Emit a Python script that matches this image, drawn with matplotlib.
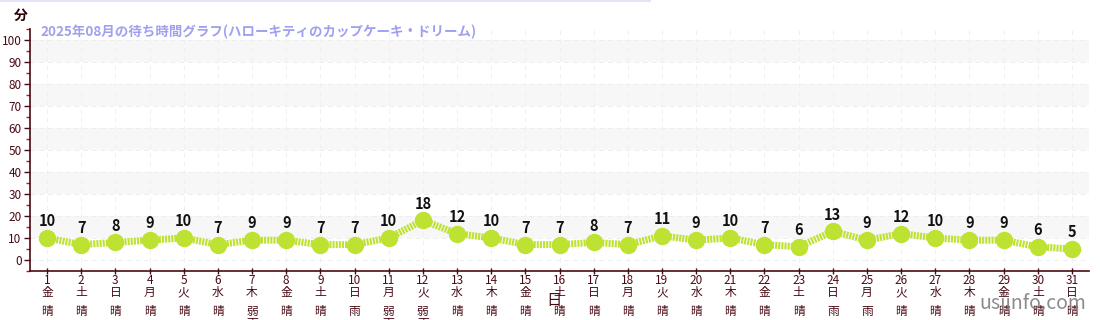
import matplotlib
matplotlib.use("Agg")
import matplotlib.pyplot as plt
from matplotlib.ticker import MultipleLocator

plt.rcParams['font.family'] = ['Noto Sans CJK JP', 'DejaVu Sans']

# data
days = list(range(1, 32))
waits = [10, 7, 8, 9, 10, 7, 9, 9, 7, 7, 10, 18, 12, 10, 7, 7, 8, 7, 11, 9,
         10, 7, 6, 13, 9, 12, 10, 9, 9, 6, 5]
weekdays = ['金', '土', '日', '月', '火', '水', '木'] * 5
weekdays = weekdays[:31]
weather = ['晴', '晴', '晴', '晴', '晴', '晴', '弱雨', '晴', '晴', '雨',
           '弱雨', '弱雨', '晴', '晴', '晴', '晴', '晴', '晴', '晴', '晴',
           '晴', '晴', '晴', '雨', '雨', '晴', '晴', '晴', '晴', '晴', '晴']
title = '2025年08月の待ち時間グラフ(ハローキティのカップケーキ・ドリーム)'

axcol = '#4a0a14'
green = '#bde232'

fig = plt.figure(figsize=(11, 3.2), dpi=100)
ax = fig.add_axes([30/1100, 1-271/320, 1059/1100, 242/320])

ax.set_xlim(0.5, 31.5)
ax.set_ylim(-5, 105)

# alternating bands
for lo in range(10, 100, 20):
    ax.axhspan(lo, lo + 10, color='#f7f7f7', zorder=0, lw=0)
for yv in range(0, 101, 10):
    ax.axhline(yv, color='#eeeeee', ls=(0, (5, 4)), lw=0.7, zorder=0.5)
for d in days:
    ax.axvline(d, color='#f0f0f0', ls=(0, (5, 4)), lw=0.7, zorder=0.5)

ax.plot(days, waits, color=green, lw=5, ls=(0, (0.3, 0.15)), zorder=2,
        dash_capstyle='butt')
ax.plot(days, waits, 'o', color=green, ms=11.5, zorder=3)

for d, w in zip(days, waits):
    ax.text(d, w + 4, str(w), ha='center', va='bottom', fontsize=10.5,
            fontweight='bold', color='#111111')

# x tick labels: day / weekday / weather (drawn as text rows)
ax.set_xticks(days)
ax.set_xticklabels([])
ax.tick_params(axis='x', length=5, width=1, color=axcol, direction='inout')
tr = ax.get_xaxis_transform()
def ypos(px):
    return (271 - px) / 242
for d, wd, wt in zip(days, weekdays, weather):
    ax.text(d, ypos(280), str(d), transform=tr, ha='center', va='center',
            fontsize=8.5, color=axcol, clip_on=False)
    ax.text(d, ypos(292.5), wd, transform=tr, ha='center', va='center',
            fontsize=8.5, color=axcol, clip_on=False)
    ax.text(d, ypos(311), wt[0], transform=tr, ha='center', va='center',
            fontsize=8.5, color=axcol, clip_on=False)
    if len(wt) > 1:
        ax.text(d, ypos(324), wt[1:], transform=tr, ha='center', va='center',
                fontsize=8.5, color=axcol, clip_on=False)

ax.yaxis.set_major_locator(MultipleLocator(10))
ax.yaxis.set_minor_locator(MultipleLocator(5))
ax.tick_params(axis='y', which='major', length=4, width=1, color=axcol,
               labelsize=8.5, labelcolor=axcol, pad=2)
ax.tick_params(axis='y', which='minor', length=3, width=1, color='#d01010')

for s in ['top', 'right']:
    ax.spines[s].set_visible(False)
for s in ['left', 'bottom']:
    ax.spines[s].set_color(axcol)
    ax.spines[s].set_linewidth(1.2)

ax.text(0.8, 103.5, title, ha='left', va='center', fontsize=9.7, fontweight='bold',
        color='#a0a0f0')
fig.text(21/1100, 1-16/320, '分', ha='center', va='center', fontsize=10,
         fontweight='bold', color='#2a0008')
fig.text(554/1100, 1-300/320, '日', ha='center', va='center', fontsize=11,
         color=axcol)
fig.text(1086/1100, 1-304/320, 'usjinfo.com', ha='right', va='center', fontsize=14,
         color='#777777', alpha=0.85)
fig.add_artist(plt.Line2D([0, 650/1100], [1-1/320, 1-1/320], color='#e4e4f8',
                          lw=1.5, transform=fig.transFigure))

fig.savefig('out.png', dpi=100)
